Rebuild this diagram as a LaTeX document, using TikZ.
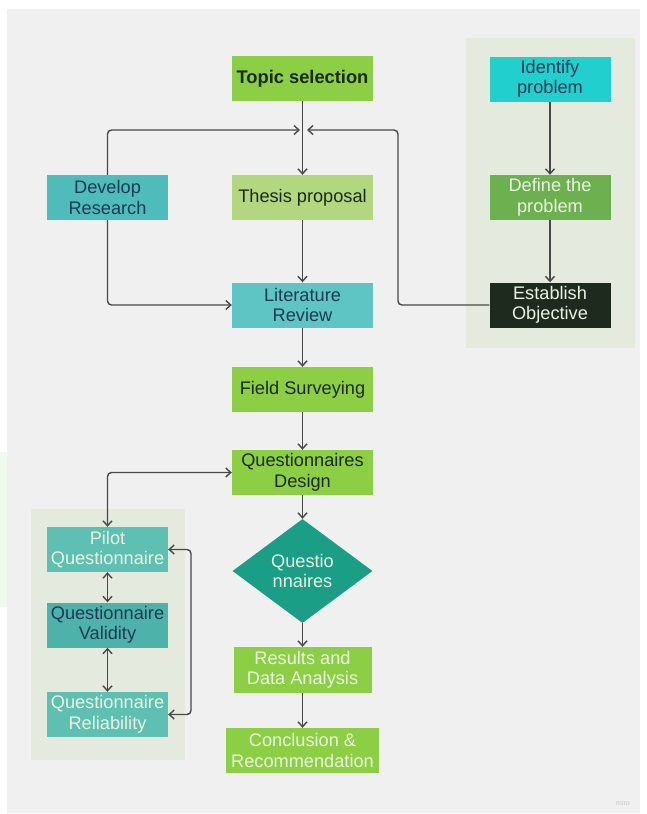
\documentclass[tikz,border=0pt]{standalone}
\usepackage{fontspec}
\setmainfont{Liberation Sans}
\usetikzlibrary{arrows.meta,shapes.geometric}
\definecolor{bgray}{HTML}{F0F0F0}
\definecolor{mint}{HTML}{EEFAF0}
\definecolor{panel}{HTML}{E5EADF}
\definecolor{lgreen}{HTML}{8CCF45}
\definecolor{pgreen}{HTML}{B3D77F}
\definecolor{mgreen}{HTML}{6CB050}
\definecolor{tealA}{HTML}{4FBCBC}
\definecolor{tealB}{HTML}{5EC4C4}
\definecolor{cyanA}{HTML}{22CFCF}
\definecolor{tealC}{HTML}{5EC0B3}
\definecolor{tealD}{HTML}{4DB3AA}
\definecolor{dteal}{HTML}{1A9E85}
\definecolor{darkbox}{HTML}{1F2A1F}
\definecolor{navy}{HTML}{1E3A55}
\definecolor{ink}{HTML}{1C2A14}
\definecolor{ltext}{HTML}{EAF3E0}
\definecolor{lineg}{HTML}{484848}
\begin{document}
\begin{tikzpicture}[x=1pt,y=-1pt,
	box/.style={rectangle,inner sep=0pt,align=center,minimum width=121pt,minimum height=45pt,font=\fontsize{18.2}{20.5}\selectfont},
	wide/.style={box,minimum width=141pt},
	arrow/.style={draw=lineg,line width=1.4pt,-{Straight Barb[length=5pt,width=9pt]},rounded corners=4pt},
	twoway/.style={arrow,{Straight Barb[length=5pt,width=9pt]}-{Straight Barb[length=5pt,width=9pt]}}]
			\useasboundingbox (0,0) rectangle (646,814);
			\fill[white] (0,0) rectangle (646,814);
			\fill[bgray] (7,9) rectangle (640,813);
			\fill[mint] (0,452) rectangle (7,607);
			\fill[panel] (466,38) rectangle (635,348);
			\fill[panel] (31,509) rectangle (185,760);
			%middle column
			\node[wide,fill=lgreen,text=ink,font=\bfseries\fontsize{18.3}{21}\selectfont] (topic) at (302.5,78.5) {Topic selection};
			\node[wide,fill=pgreen,text=ink] (thesis) at (302.5,197.5) {Thesis proposal};
			\node[wide,fill=tealB,text=navy] (litrev) at (302.5,305) {Literature\\Review};
			\node[wide,fill=lgreen,text=ink] (field) at (302.5,389.5) {Field Surveying};
			\node[wide,fill=lgreen,text=ink] (qdesign) at (302.5,472.5) {Questionnaires\\Design};
			\node[diamond,fill=dteal,text=ltext,inner sep=0pt,minimum width=140pt,minimum height=104pt,align=center,font=\fontsize{18.2}{20.5}\selectfont] (quest) at (302.5,571) {Questio\\nnaires};
			\node[wide,minimum width=138pt,minimum height=46pt,fill=lgreen,text=ltext] (results) at (302.5,670) {Results and\\Data Analysis};
			\node[wide,minimum width=153pt,fill=lgreen,text=ltext] (concl) at (302.5,750.5) {Conclusion \&\\Recommendation};
			%left column
			\node[box,fill=tealA,text=navy] (devres) at (107.5,197.5) {Develop\\Research};
			\node[box,fill=tealC,text=ltext] (pilot) at (107.5,549.5) {Pilot\\Questionnaire};
			\node[box,fill=tealD,text=navy] (valid) at (107.5,625) {Questionnaire\\Validity};
			\node[box,fill=tealC,text=ltext] (reliab) at (107.5,714.5) {Questionnaire\\Reliability};
			%right column
			\node[box,fill=cyanA,text=navy] (identify) at (550,79) {Identify\\problem};
			\node[box,fill=mgreen,text=ltext] (define) at (550,197.5) {Define the\\problem};
			\node[box,fill=darkbox,text=ltext] (establish) at (550,305) {Establish\\Objective};
			\node[text=black!22,font=\fontsize{7}{8}\selectfont] (miro) at (623,803) {miro};
			\coordinate (merge) at (302.5,130);
			\coordinate (bendR) at (398,305);
			\coordinate (loopR) at (191,549.5);
			\foreach \tu/\den in {topic/thesis,thesis/litrev,litrev/field,field/qdesign,qdesign/quest,quest/results,results/concl,identify/define,define/establish}
			\draw[arrow] (\tu)--(\den);
			\draw[arrow] (devres.north) |- ([xshift=-2.5pt]merge);
			\draw[arrow] (establish.west) -- (bendR) |- ([xshift=4.5pt]merge);
			\draw[arrow] (devres.south) |- (litrev.west);
			\draw[twoway] (qdesign.west) -| (pilot.north);
			\draw[twoway] (pilot)--(valid);
			\draw[twoway] (valid)--(reliab);
			\draw[twoway] (pilot.east) -- (loopR) |- (reliab.east);
		\end{tikzpicture}
\end{document}
